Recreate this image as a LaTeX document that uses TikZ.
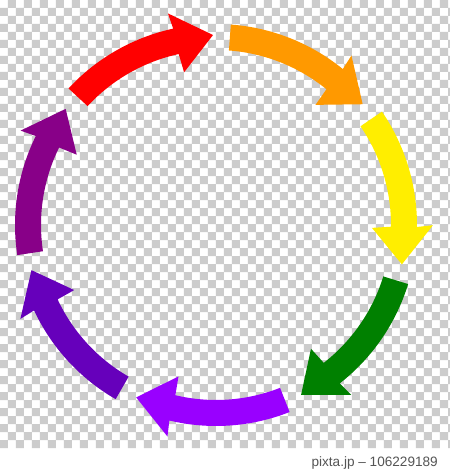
\documentclass[tikz,border=0pt]{standalone}
\usepackage{fontspec}
\setsansfont{Liberation Sans}

\definecolor{CheckGray}{HTML}{CCCCCC}
\definecolor{StampGray}{HTML}{555555}
\definecolor{ArcRed}{HTML}{FF0000}
\definecolor{ArcOrange}{HTML}{FF9900}
\definecolor{ArcYellow}{HTML}{FFEE00}
\definecolor{ArcGreen}{HTML}{008000}
\definecolor{ArcViolet}{HTML}{9900FF}
\definecolor{ArcIndigo}{HTML}{6600BB}
\definecolor{ArcPurple}{HTML}{880088}

\begin{document}
\begin{tikzpicture}[x=0.03cm, y=0.03cm,
      every node/.append style={font=\sffamily},
      checker/.style={fill=CheckGray},
      band/.style={draw=none}]
    \tikzstyle{stamp} = [font=\fontsize{11.6}{13}\selectfont\sffamily,color=StampGray,anchor=base east,inner sep=0pt]
    \useasboundingbox (-216,-244) rectangle (234,225);
    \fill[white] (-216,-244) rectangle (234,225);
    % transparency grid
    \begin{scope}
      \clip (-216,-223) rectangle (234,225);
      \fill[checker]
        \foreach \i in {0,2,...,56} {\foreach \j in {1,3,...,55} {(-216+8*\i,217-8*\j) rectangle ++(8,8)}}
        \foreach \i in {1,3,...,55} {\foreach \j in {0,2,...,54} {(-216+8*\i,217-8*\j) rectangle ++(8,8)}};
    \end{scope}
    % ring of curved arrows
    \foreach \c [count=\k from 0] in {ArcRed,ArcOrange,ArcYellow,ArcGreen,ArcViolet,ArcIndigo,ArcPurple} {
      \pgfmathsetmacro\a{137.2-51.43*\k}
      \fill[band,\c] (\a:201) arc[start angle=\a, end angle=\a-34.9, radius=201]
        -- ({\a-34.4}:217) -- ({\a-46.3}:190) -- ({\a-35.4}:156) -- ({\a-34.9}:175)
        arc[start angle=\a-34.9, end angle=\a, radius=175] -- cycle;
    }
    \node[stamp] (credit) at (222,-241) {pixta.jp -- 106229189};
\end{tikzpicture}
\end{document}
